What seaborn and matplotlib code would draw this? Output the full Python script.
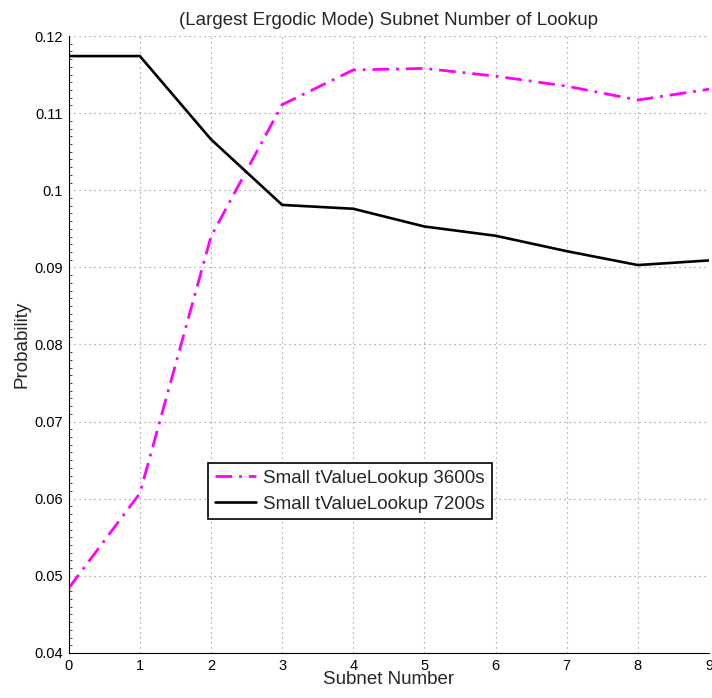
import matplotlib
matplotlib.use("Agg")
import matplotlib.pyplot as plt
import seaborn as sns
import pandas as pd
from matplotlib.ticker import FuncFormatter, MultipleLocator, AutoMinorLocator

subnet = [0, 1, 2, 3, 4, 5, 6, 7, 8, 9]
p_3600 = [0.0484, 0.0607, 0.0940, 0.1111, 0.1156, 0.1158, 0.1148, 0.1135, 0.1117, 0.1131]
p_7200 = [0.1174, 0.1174, 0.1066, 0.0981, 0.0976, 0.0953, 0.0941, 0.0921, 0.0903, 0.0909]
labels = ["Small tValueLookup 3600s", "Small tValueLookup 7200s"]

sns.set_style("white")
plt.rcParams['font.family'] = ['Liberation Sans', 'DejaVu Sans']

fig = plt.figure(figsize=(7.12, 6.98), dpi=100)
ax = fig.add_axes([0.0965, 0.0645, 0.8993, 0.8839])

df1 = pd.DataFrame({"x": subnet, "y": p_3600})
df2 = pd.DataFrame({"x": subnet, "y": p_7200})
sns.lineplot(data=df1, x="x", y="y", ax=ax, color="#ff00ff", lw=2.0,
             linestyle=(0, (6, 2.5, 1, 2.5)), label=labels[0])
sns.lineplot(data=df2, x="x", y="y", ax=ax, color="black", lw=1.9,
             label=labels[1])

ax.set_xlim(0, 9)
ax.set_ylim(0.04, 0.12)
ax.xaxis.set_major_locator(MultipleLocator(1))
ax.yaxis.set_major_locator(MultipleLocator(0.01))
ax.yaxis.set_minor_locator(AutoMinorLocator(10))
ax.yaxis.set_major_formatter(FuncFormatter(lambda v, p: "%g" % round(v, 4)))
ax.grid(True, which="major", linestyle=(0, (1, 3.5)), color="#888888", lw=0.8)
for s in ["top", "right"]:
    ax.spines[s].set_visible(False)
for s in ["left", "bottom"]:
    ax.spines[s].set_color("black")
    ax.spines[s].set_linewidth(0.8)
ax.tick_params(axis="both", which="major", direction="in", length=5, width=0.8,
               labelsize=10.5, colors="black", pad=4)
ax.tick_params(axis="y", which="minor", direction="in", length=2.5, width=0.6, left=True)

ax.set_xlabel("Subnet Number", fontsize=13.5, labelpad=-1)
ax.set_ylabel("Probability", fontsize=13.5, labelpad=3)
ax.set_title("(Largest Ergodic Mode) Subnet Number of Lookup", fontsize=13.5, pad=8)

leg = ax.legend(loc="upper left", bbox_to_anchor=(1.96 / 9, (0.0646 - 0.04) / 0.08),
                fontsize=13.5, frameon=True, fancybox=False, framealpha=1,
                edgecolor="black", handlelength=2.2, borderpad=0.35,
                labelspacing=0.45, handletextpad=0.4, borderaxespad=0)
leg.get_frame().set_linewidth(1.2)

fig.savefig("out.png", dpi=100)
